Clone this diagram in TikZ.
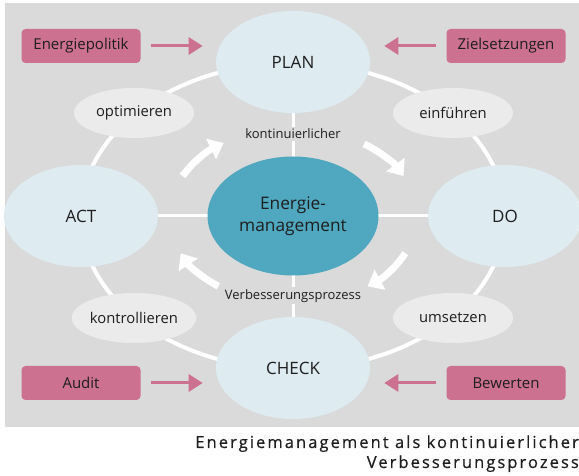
\documentclass[tikz,border=0pt]{standalone}
\usepackage{fontspec}
\setmainfont{Open Sans}
\usetikzlibrary{arrows.meta,shapes.geometric}

\definecolor{bggray}{HTML}{DADADA}
\definecolor{phase}{HTML}{DEEBF1}
\definecolor{core}{HTML}{4FA8C0}
\definecolor{step}{HTML}{EBEBEB}
\definecolor{rose}{HTML}{CC7190}
\definecolor{ink}{HTML}{1E1E1E}

\tikzset{
  phasenode/.style={ellipse, fill=phase, minimum width=154pt, minimum height=102pt,
    inner sep=0pt, font=\fontsize{17}{20}\selectfont, text=ink},
  corenode/.style={ellipse, fill=core, minimum width=171pt, minimum height=119pt,
    inner sep=0pt, align=center, font=\fontsize{17.3}{22}\selectfont, text=ink},
  stepnode/.style={ellipse, fill=step, minimum width=120pt, minimum height=50pt,
    inner sep=0pt, font=\fontsize{14.8}{16}\selectfont, text=ink},
  inputbox/.style={rectangle, rounded corners=4pt, fill=rose, minimum width=119pt,
    minimum height=34pt, inner sep=0pt, font=\fontsize{15}{16}\selectfont, text=ink},
  inputarrow/.style={draw=rose, line width=3pt, -{Triangle[width=17pt,length=14pt]}},
  ring/.style={draw=white, line width=4pt},
  cross/.style={draw=white, line width=3pt},
  cycle/.style={draw=white, line width=7pt, -{Triangle[width=22pt,length=14pt]}},
  cyclelabel/.style={fill=bggray, inner sep=2pt, font=\fontsize{13}{14}\selectfont, text=ink},
}

\begin{document}
\begin{tikzpicture}[x=1pt,y=1pt]
  \useasboundingbox (0,0) rectangle (579,476);
  \fill[bggray] (5,49) rectangle (579,473);

  % outer cycle and the cross through the centre
  \draw[ring] (293,260) ellipse[x radius=212, y radius=153];
  \coordinate (hl) at (81,260);
  \coordinate (hr) at (505,260);
  \coordinate (vt) at (293,414);
  \coordinate (vb) at (293,108);
  \draw[cross] (hl) -- (hr);
  \draw[cross] (vt) -- (vb);

  % curved arrows of the improvement loop
  \coordinate (m) at (293,260);
  \draw[cycle] ([shift={(153:124 and 88)}]m) arc[start angle=153, end angle=124, x radius=124, y radius=88];
  \draw[cycle] ([shift={(55:124 and 88)}]m) arc[start angle=55, end angle=27, x radius=124, y radius=88];
  \draw[cycle] ([shift={(-25:124 and 88)}]m) arc[start angle=-25, end angle=-53, x radius=124, y radius=88];
  \draw[cycle] ([shift={(233:124 and 88)}]m) arc[start angle=233, end angle=205, x radius=124, y radius=88];

  \node[cyclelabel] (lk) at (293,342) {kontinuierlicher};
  \node[cyclelabel] (lv) at (293,180) {Verbesserungsprozess};

  % PDCA phases
  \node[phasenode] (plan)  at (293,414) {PLAN};
  \node[phasenode] (do)    at (505,260) {DO};
  \node[phasenode] (check) at (293,108) {CHECK};
  \node[phasenode] (act)   at (81,260)  {ACT};
  \node[corenode]  (em)    at (293,260) {Energie-\\management};

  % activities between phases
  \node[stepnode] (opt) at (134,363) {optimieren};
  \node[stepnode] (ein) at (453,363) {einführen};
  \node[stepnode] (kon) at (134,158) {kontrollieren};
  \node[stepnode] (ums) at (453,158) {umsetzen};

  % inputs
  \node[inputbox] (pol)  at (81,430)  {Energiepolitik};
  \node[inputbox] (ziel) at (506,430) {Zielsetzungen};
  \node[inputbox] (aud)  at (81,93)   {Audit};
  \node[inputbox] (bew)  at (506,93)  {Bewerten};

  \draw[inputarrow] ([xshift=10pt]pol.east)   -- ([xshift=62pt]pol.east);
  \draw[inputarrow] ([xshift=-10pt]ziel.west) -- ([xshift=-62pt]ziel.west);
  \draw[inputarrow] ([xshift=10pt]aud.east)   -- ([xshift=62pt]aud.east);
  \draw[inputarrow] ([xshift=-10pt]bew.west)  -- ([xshift=-62pt]bew.west);

  % caption
  \node[anchor=base east, inner sep=0pt, text=ink, align=right,
        font=\fontsize{16.5}{20}\selectfont\addfontfeatures{LetterSpace=12.5,FakeBold=0.6}]
    (cap) at (579,8) {Energiemanagement als kontinuierlicher\\Verbesserungsprozess};
\end{tikzpicture}
\end{document}
